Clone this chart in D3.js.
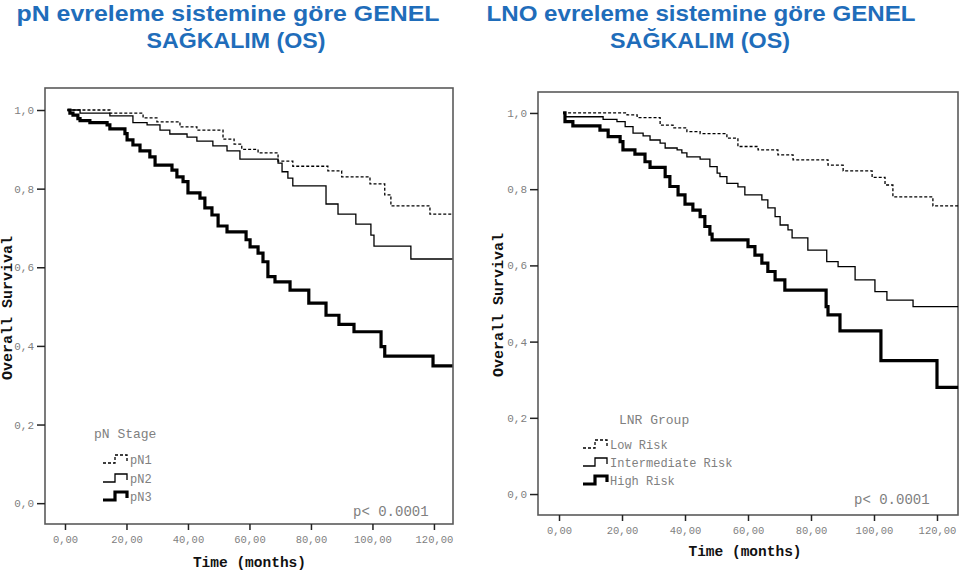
<!DOCTYPE html>
<html>
<head>
<meta charset="utf-8">
<script src="https://cdn.jsdelivr.net/npm/d3@7"></script>
<style>
  html, body { margin: 0; padding: 0; background: #fff; }
  svg { display: block; }
</style>
</head>
<body>
<svg id="chart" width="960" height="570"></svg>
<script>
// ---------- DATA ----------
const monthTicks = [0, 20, 40, 60, 80, 100, 120];
const survivalTicks = [0, 0.2, 0.4, 0.6, 0.8, 1.0];

const titleLeft = ["pN evreleme sistemine göre GENEL", "SAĞKALIM (OS)"];
const titleRight = ["LNO evreleme sistemine göre GENEL", "SAĞKALIM (OS)"];

const legendLeftTitle = "pN Stage";
const legendLeftLabels = ["pN1", "pN2", "pN3"];
const legendRightTitle = "LNR Group";
const legendRightLabels = ["Low Risk", "Intermediate Risk", "High Risk"];

const pValueText = "p< 0.0001";
const xTitle = "Time (months)";
const yTitle = "Overall Survival";

// [time (months), survival] — step after each time
const pN1 = [[0.8,1.0],[14.6,0.992],[25.4,0.98],[29.9,0.97],[37.4,0.957],[42.9,0.949],[51.4,0.926],[55,0.913],[57.5,0.90],[62.8,0.891],[69.3,0.87],[74.1,0.857],[85.5,0.845],[90,0.83],[99.2,0.812],[104,0.784],[106,0.756],[118.7,0.735],[126,0.735]];
const pN2 = [[0.8,1.0],[4.9,0.992],[14.6,0.985],[22.1,0.968],[26.7,0.962],[30.9,0.949],[34.1,0.939],[39.7,0.931],[42.9,0.921],[48.1,0.909],[52.7,0.896],[56.9,0.875],[69.3,0.865],[70.6,0.843],[72.5,0.827],[74.1,0.807],[84.9,0.761],[88.8,0.735],[94.6,0.71],[99.5,0.682],[100.5,0.654],[112.5,0.621],[126,0.621]];
const pN3 = [[0.8,1.0],[1.6,0.992],[2.6,0.987],[4.2,0.978],[4.9,0.973],[8.1,0.968],[13.7,0.962],[14.6,0.952],[19.5,0.94],[20.2,0.924],[22.1,0.911],[24.4,0.896],[27.6,0.881],[29.3,0.86],[34.8,0.847],[36.4,0.83],[38.4,0.818],[40,0.789],[43.9,0.776],[45.5,0.751],[47.8,0.733],[49.8,0.705],[52.7,0.69],[58.9,0.67],[60.2,0.652],[62.8,0.636],[64.4,0.614],[66,0.576],[68.3,0.563],[73.2,0.542],[79.3,0.509],[84.9,0.478],[89.1,0.455],[94,0.436],[102.8,0.398],[104,0.374],[119.7,0.349],[126,0.349]];

const lowRisk = [[1.3,1.0],[21.6,0.995],[24.8,0.988],[32.1,0.968],[36.2,0.961],[40.6,0.951],[44.8,0.946],[53.3,0.934],[56.8,0.912],[63.2,0.903],[69.5,0.89],[74.3,0.877],[85.4,0.863],[90.2,0.848],[99.4,0.831],[103.5,0.811],[106,0.78],[118.7,0.756],[126.7,0.756]];
const intermediateRisk = [[1.3,1.0],[1.9,0.99],[14,0.983],[18.4,0.977],[21,0.964],[23.5,0.947],[26.7,0.94],[28.9,0.929],[32.1,0.921],[33.7,0.908],[37.5,0.903],[39,0.895],[40.6,0.885],[44.8,0.879],[47.9,0.859],[50.2,0.842],[51.1,0.833],[53.3,0.815],[56.8,0.806],[59,0.785],[64.4,0.772],[66.3,0.751],[68.6,0.728],[70.2,0.706],[72.7,0.693],[74,0.672],[79,0.64],[85,0.61],[88.6,0.597],[94,0.562],[100.3,0.531],[104.1,0.509],[112.4,0.492],[126.7,0.492]];
const highRisk = [[1.3,1.0],[1.9,0.977],[4.4,0.966],[13,0.955],[15.6,0.938],[19.4,0.925],[20.3,0.903],[24.1,0.892],[27.3,0.872],[28.9,0.857],[33.7,0.833],[35.2,0.807],[37.8,0.785],[40,0.761],[42.5,0.745],[44.8,0.728],[46.3,0.702],[47.9,0.682],[48.6,0.667],[60,0.649],[62.2,0.627],[64.4,0.606],[66.3,0.584],[68.6,0.562],[71.7,0.535],[84.8,0.492],[85.4,0.47],[89.2,0.428],[102.2,0.35],[120,0.28],[126.7,0.28]];

// ---------- STYLES ----------
const seriesStyles = [
  { width: 1.3, dash: "3,2" },
  { width: 1.3, dash: null },
  { width: 3.2, dash: null }
];

const svg = d3.select("#chart");
const mono = "'Liberation Mono', 'DejaVu Sans Mono', monospace";
const grey = "#808080";

function drawTitle(lines, centers, baselines, widths) {
  lines.forEach((t, i) => {
    svg.append("text")
      .attr("x", centers[i]).attr("y", baselines[i])
      .attr("text-anchor", "middle")
      .attr("font-family", "'Liberation Sans', Arial, sans-serif")
      .attr("font-weight", 700)
      .attr("font-size", 22)
      .attr("textLength", widths[i])
      .attr("lengthAdjust", "spacingAndGlyphs")
      .attr("fill", "#1F6DBA")
      .text(t);
  });
}

function drawPanel(p) {
  const x = d3.scaleLinear().domain(p.xDomain).range([p.left, p.right]);
  const y = d3.scaleLinear().domain(p.yDomain).range([p.bottom, p.top]);
  const g = svg.append("g");

  // frame
  g.append("rect")
    .attr("x", p.left).attr("y", p.top)
    .attr("width", p.right - p.left).attr("height", p.bottom - p.top)
    .attr("fill", "none").attr("stroke", "#5a5a5a").attr("stroke-width", 1.6);

  // y axis
  const ya = g.append("g").attr("transform", `translate(${p.left},0)`)
    .call(d3.axisLeft(y).tickValues(survivalTicks).tickSize(8).tickPadding(3)
      .tickFormat(d => d.toFixed(1).replace(".", ",")));
  ya.select(".domain").remove();
  ya.selectAll(".tick line").attr("stroke", "#222").attr("stroke-width", 1.5);
  ya.selectAll(".tick text").attr("font-family", mono).attr("font-size", 11).attr("fill", grey);

  // x axis
  const xa = g.append("g").attr("transform", `translate(0,${p.bottom})`)
    .call(d3.axisBottom(x).tickValues(monthTicks).tickSize(6).tickPadding(p.xPad)
      .tickFormat(d => d.toFixed(2).replace(".", ",")));
  xa.select(".domain").remove();
  xa.selectAll(".tick line").attr("stroke", "#222").attr("stroke-width", 1.5);
  xa.selectAll(".tick text").attr("font-family", mono).attr("font-size", 10.5).attr("fill", grey);

  // axis titles
  g.append("text")
    .attr("x", (x(0) + x(120)) / 2 + p.xTitleShift).attr("y", p.xTitleY)
    .attr("text-anchor", "middle")
    .attr("font-family", mono).attr("font-weight", 700).attr("font-size", 14.5).attr("fill", "#111")
    .text(xTitle);
  g.append("text")
    .attr("transform", `translate(${p.yTitleX},${p.yTitleCY}) rotate(-90)`)
    .attr("text-anchor", "middle")
    .attr("font-family", mono).attr("font-weight", 700).attr("font-size", 15).attr("fill", "#111")
    .text(yTitle);

  // curves
  const line = d3.line().x(d => x(d[0])).y(d => y(d[1])).curve(d3.curveStepAfter);
  p.series.forEach((s, i) => {
    g.append("path")
      .datum(s)
      .attr("d", line)
      .attr("fill", "none")
      .attr("stroke", "#000")
      .attr("stroke-width", seriesStyles[i].width)
      .attr("stroke-dasharray", seriesStyles[i].dash)
      .attr("stroke-linejoin", "miter")
      .attr("stroke-linecap", "butt");
  });

  // legend
  g.append("text")
    .attr("x", p.legendTitleX).attr("y", p.legendTitleY)
    .attr("font-family", mono).attr("font-size", 13).attr("fill", grey)
    .text(p.legendTitle);
  p.legendLabels.forEach((lab, i) => {
    const cy = p.legendRowY[i];
    const lx = p.legendSymX;
    const pts = [[lx, cy + 4], [lx + 12, cy + 4], [lx + 12, cy - 4], [lx + 24, cy - 4], [lx + 24, cy + 2]];
    g.append("path")
      .attr("d", d3.line()(pts))
      .attr("fill", "none").attr("stroke", "#000")
      .attr("stroke-width", seriesStyles[i].width)
      .attr("stroke-dasharray", seriesStyles[i].dash);
    g.append("text")
      .attr("x", lx + 27).attr("y", cy + 4.5)
      .attr("font-family", mono).attr("font-size", 12).attr("fill", grey)
      .text(lab);
  });

  // p-value
  g.append("text")
    .attr("x", p.pX).attr("y", p.pY)
    .attr("font-family", mono).attr("font-size", 14).attr("fill", grey)
    .text(pValueText);
}

drawTitle(titleLeft, [228, 236], [21, 48], [423, 179]);
drawTitle(titleRight, [701, 700], [21, 48], [429, 180]);

drawPanel({
  left: 45, right: 453, top: 88, bottom: 524,
  xDomain: [-6.5, 126.2], yDomain: [-0.053, 1.056],
  xPad: 6, xTitleY: 567, xTitleShift: 0, yTitleX: 12, yTitleCY: 308,
  series: [pN1, pN2, pN3],
  legendTitle: legendLeftTitle, legendLabels: legendLeftLabels,
  legendTitleX: 94, legendTitleY: 438, legendSymX: 103, legendRowY: [459, 478, 496],
  pX: 353, pY: 516
});

drawPanel({
  left: 538, right: 958, top: 92, bottom: 515,
  xDomain: [-6.67, 126.67], yDomain: [-0.055, 1.055],
  xPad: 6, xTitleY: 556, xTitleShift: -3, yTitleX: 503, yTitleCY: 305,
  series: [lowRisk, intermediateRisk, highRisk],
  legendTitle: legendRightTitle, legendLabels: legendRightLabels,
  legendTitleX: 619, legendTitleY: 424, legendSymX: 583, legendRowY: [444, 462, 480],
  pX: 854, pY: 504
});
</script>
</body>
</html>
